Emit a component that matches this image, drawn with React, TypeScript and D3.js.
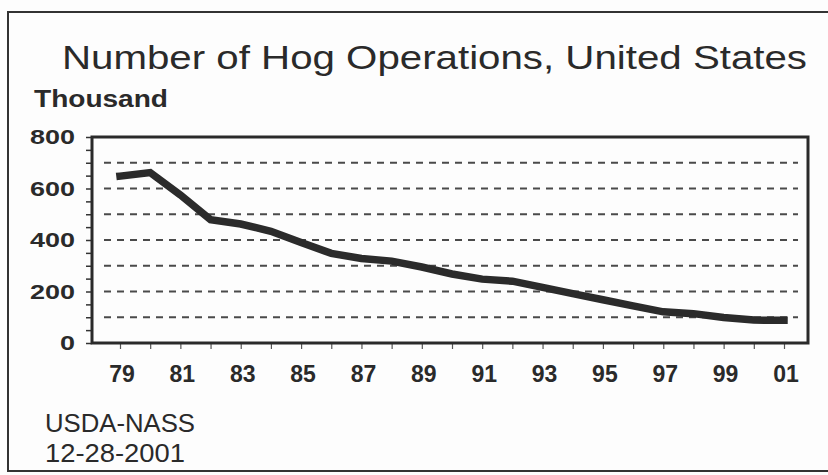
import React, { useEffect, useRef } from "react";
import * as d3 from "d3";

// number of hog operations, thousand head
const years = [1979, 1980, 1981, 1982, 1983, 1984, 1985, 1986, 1987, 1988, 1989, 1990,
  1991, 1992, 1993, 1994, 1995, 1996, 1997, 1998, 1999, 2000, 2001];
const operations = [648, 662, 575, 479, 462, 434, 390, 348, 328, 318, 295, 268,
  248, 240, 216, 192, 168, 144, 121, 114, 99, 89, 88];
const yLabelValues = [0, 200, 400, 600, 800];
const gridValues = [100, 200, 300, 400, 500, 600, 700];
const xLabelYears = [1979, 1981, 1983, 1985, 1987, 1989, 1991, 1993, 1995, 1997, 1999, 2001];

const width = 828;
const height = 475;
const font = "Liberation Sans, Arial, sans-serif";

export default function App() {
  const ref = useRef<SVGSVGElement>(null);

  useEffect(() => {
    const svg = d3.select(ref.current);
    svg.selectAll("*").remove();

    const plot = { left: 92, right: 808, top: 137, bottom: 343 };

    const x = d3.scaleLinear().domain([1979, 2001]).range([120, 784]);
    const y = d3.scaleLinear().domain([0, 800]).range([plot.bottom, plot.top]);

    svg.append("rect")
      .attr("width", width).attr("height", height).attr("fill", "#fdfdfd");

    // outer frame (right side runs off the page)
    svg.append("rect")
      .attr("x", 8).attr("y", 12).attr("width", 840).attr("height", 459)
      .attr("fill", "none").attr("stroke", "#333").attr("stroke-width", 2);

    svg.append("text")
      .attr("x", 62).attr("y", 69)
      .attr("font-family", font).attr("font-size", 34).attr("fill", "#2a2a2a")
      .attr("textLength", 745).attr("lengthAdjust", "spacingAndGlyphs")
      .text("Number of Hog Operations, United States");

    svg.append("text")
      .attr("x", 34).attr("y", 107)
      .attr("font-family", font).attr("font-size", 23).attr("font-weight", "bold").attr("fill", "#2a2a2a")
      .attr("textLength", 134).attr("lengthAdjust", "spacingAndGlyphs")
      .text("Thousand");

    // dashed grid
    svg.append("g").selectAll("line")
      .data(gridValues).enter().append("line")
      .attr("x1", 104).attr("x2", 798)
      .attr("y1", d => y(d)).attr("y2", d => y(d))
      .attr("stroke", "#4a4a4a").attr("stroke-width", 1.8)
      .attr("stroke-dasharray", "7,6");

    // y axis minor ticks every 50
    const yAxis = d3.axisLeft(y)
      .tickValues(d3.range(0, 801, 50))
      .tickSize(6)
      .tickFormat(() => "");
    const gy = svg.append("g")
      .attr("transform", `translate(${plot.left},0)`)
      .call(yAxis);
    gy.select(".domain").remove();
    gy.selectAll(".tick line").attr("stroke", "#333").attr("stroke-width", 1.5);

    svg.append("g").selectAll("text")
      .data(yLabelValues).enter().append("text")
      .attr("x", 75).attr("y", d => y(d) + 7)
      .attr("text-anchor", "end")
      .attr("font-family", font).attr("font-size", 20).attr("font-weight", "bold").attr("fill", "#2a2a2a")
      .attr("textLength", d => String(d).length * 15).attr("lengthAdjust", "spacingAndGlyphs")
      .text(d => String(d));

    // x axis ticks every year
    const xAxis = d3.axisBottom(x)
      .tickValues(years)
      .tickSize(6)
      .tickFormat(() => "");
    const gx = svg.append("g")
      .attr("transform", `translate(0,${plot.bottom})`)
      .call(xAxis);
    gx.select(".domain").remove();
    gx.selectAll(".tick line").attr("stroke", "#555").attr("stroke-width", 1.2);

    svg.append("g").selectAll("text")
      .data(xLabelYears).enter().append("text")
      .attr("x", d => x(d) + 2).attr("y", 382)
      .attr("text-anchor", "middle")
      .attr("font-family", font).attr("font-size", 23).attr("font-weight", "bold").attr("fill", "#2a2a2a")
      .text(d => String(d % 100).padStart(2, "0"));

    // plot frame
    svg.append("rect")
      .attr("x", plot.left).attr("y", plot.top)
      .attr("width", plot.right - plot.left).attr("height", plot.bottom - plot.top)
      .attr("fill", "none").attr("stroke", "#2a2a2a").attr("stroke-width", 3);

    const line = d3.line<number>()
      .x((d, i) => x(years[i]))
      .y(d => y(d));

    svg.append("path")
      .datum(operations)
      .attr("d", line)
      .attr("fill", "none")
      .attr("stroke", "#2b2b2b")
      .attr("stroke-width", 7.5)
      .attr("stroke-linejoin", "miter")
      .attr("stroke-linecap", "square");

    svg.append("text")
      .attr("x", 45).attr("y", 432)
      .attr("font-family", font).attr("font-size", 25).attr("fill", "#2a2a2a")
      .attr("textLength", 150).attr("lengthAdjust", "spacingAndGlyphs")
      .text("USDA-NASS");

    svg.append("text")
      .attr("x", 45).attr("y", 462)
      .attr("font-family", font).attr("font-size", 25).attr("fill", "#2a2a2a")
      .attr("textLength", 140).attr("lengthAdjust", "spacingAndGlyphs")
      .text("12-28-2001");
  }, []);

  return (
    <svg ref={ref} width={width} height={height}
      style={{ position: "absolute", left: 0, top: 0, display: "block" }} />
  );
}
